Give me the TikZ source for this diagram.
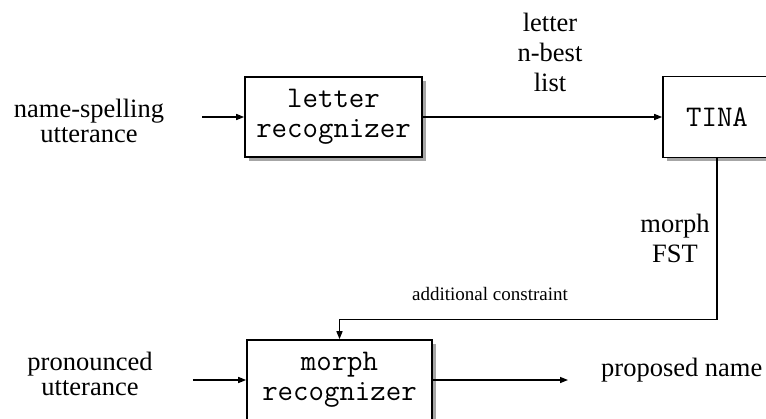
\documentclass[tikz,border=0pt]{standalone}
\usepackage{fontspec}
\setmainfont{Liberation Serif}
\usetikzlibrary{
  arrows.meta,
  positioning,
  shadows
}

\begin{document}
\begin{tikzpicture}[
  x=1pt, y=-1pt,
  proc/.style={
    rectangle, draw=black, fill=white, line width=1.6pt,
    font=\fontsize{30}{30}\selectfont\ttfamily, align=center,
    minimum height=80pt, inner sep=0pt,
    drop shadow={shadow xshift=3.5pt, shadow yshift=-3.5pt,
      fill=black!35, opacity=1}
  },
  lbl/.style={font=\fontsize{26.5}{25}\selectfont, align=center, inner sep=0pt},
  lblwide/.style={font=\fontsize{26.5}{30}\selectfont, align=center, inner sep=0pt},
  arr/.style={-{Triangle[length=8pt,width=6pt]}, line width=1.4pt},
]
\clip (0,0) rectangle (766,418);

% processing stages
\node[proc, minimum width=177pt] (letterrec) at (333.5,117) {letter\\recognizer};
\node[proc, minimum width=108pt, minimum height=81pt] (tina) at (717,117) {TINA};
\node[proc, minimum width=185pt] (morphrec) at (339.5,380) {morph\\recognizer};

% inputs and outputs
\node[lbl] (spelling) at (89,121) {name-spelling\\utterance};
\node[lbl] (pronounced) at (90,374) {pronounced\\utterance};
\node[lbl, anchor=west] (proposed) at (601,370) {proposed name};

% labels on the links
\node[lblwide] (nbest) at (550,52) {letter\\n-best\\list};
\node[lblwide] (fst) at (675,238) {morph\\FST};
\node[font=\fontsize{19}{20}\selectfont, inner sep=0pt] (constraint) at (490,294) {additional constraint};

% arrows
\draw[arr, shorten <=38pt] (spelling.east |- letterrec.west) -- (letterrec.west);
\draw[arr] (letterrec.east) -- (tina.west);
\draw[arr] (tina.south) -- ++(0,161) -| (morphrec.north);
\draw[arr, shorten <=40pt] (pronounced.east |- morphrec.west) -- (morphrec.west);
\draw[arr, shorten >=33pt] (morphrec.east) -- (morphrec.east -| proposed.west);

\end{tikzpicture}
\end{document}
